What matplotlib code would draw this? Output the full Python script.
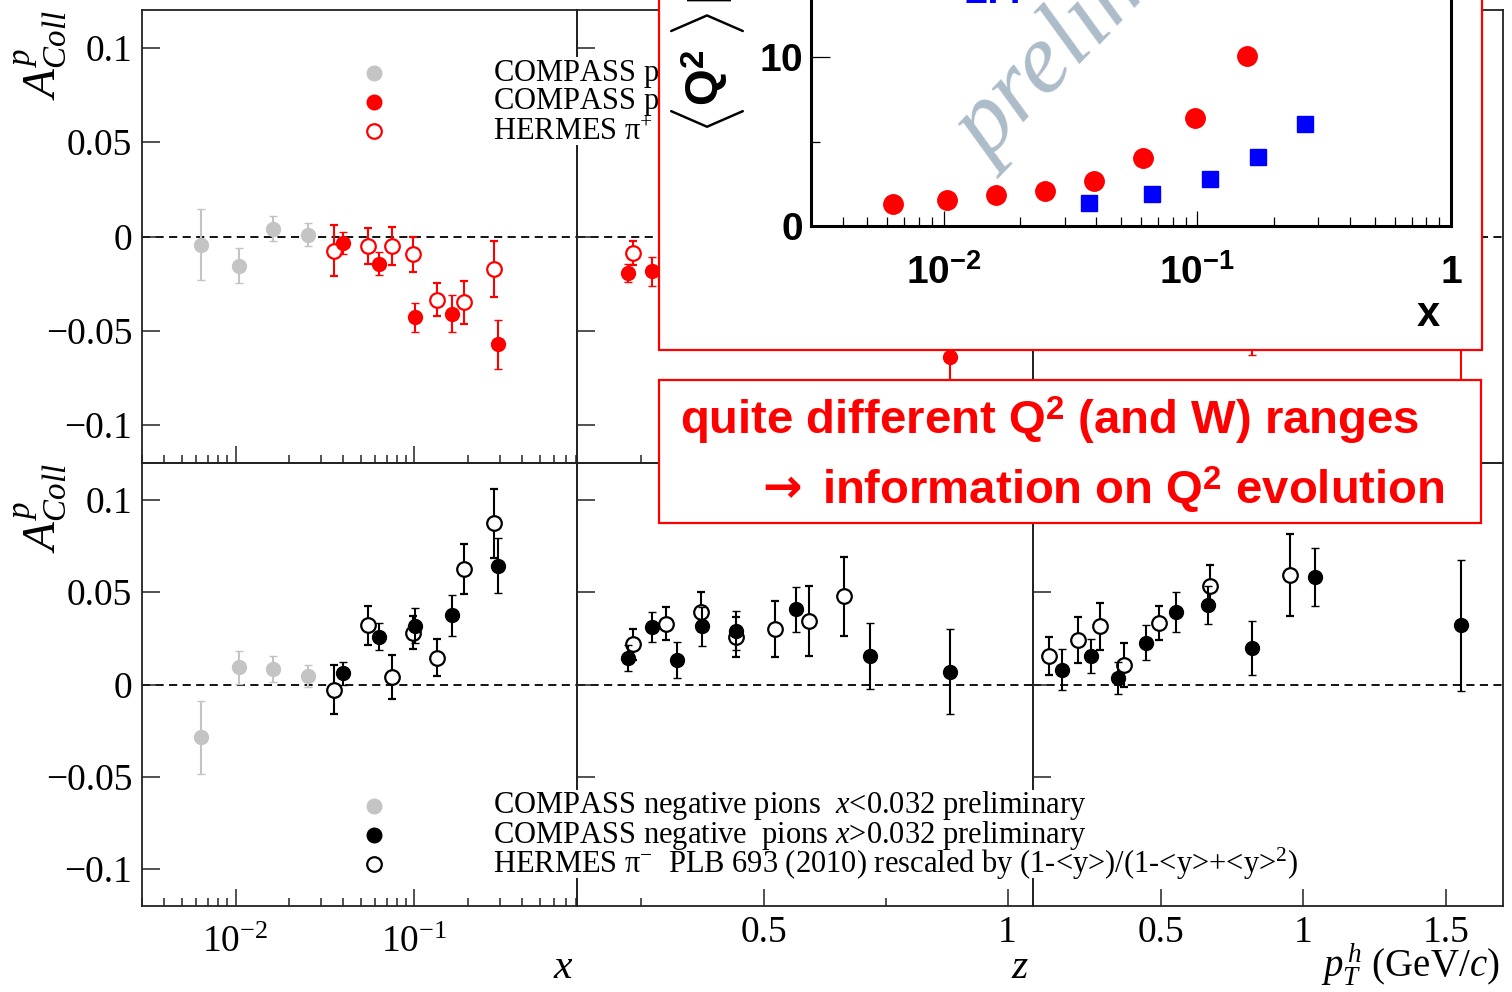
import numpy as np
import matplotlib
matplotlib.use('Agg')
import matplotlib.pyplot as plt
from matplotlib.patches import Rectangle
from matplotlib.lines import Line2D
from matplotlib.transforms import Affine2D
from matplotlib.ticker import LogLocator, FixedLocator, FixedFormatter, NullFormatter

plt.rcParams['font.family'] = ['Liberation Serif', 'DejaVu Serif']
plt.rcParams['mathtext.fontset'] = 'custom'
plt.rcParams['mathtext.rm'] = 'Liberation Serif'
plt.rcParams['mathtext.it'] = 'Liberation Serif:italic'
plt.rcParams['mathtext.bf'] = 'Liberation Sans:bold'
plt.rcParams['axes.linewidth'] = 1.3
plt.rcParams['axes.edgecolor'] = '#222222'

# ---------------- Collins asymmetry data ----------------
# x binning (COMPASS x<0.032, x>0.032, HERMES)
x_lo  = [0.0064, 0.0104, 0.0162, 0.0253]
x_hi  = [0.040, 0.063, 0.101, 0.162, 0.294]
x_her = [0.0353, 0.0548, 0.0745, 0.098, 0.133, 0.189, 0.279]

# positive pions vs x
pos_x_lo      = [-0.0043, -0.0156, 0.0041, 0.0009]
pos_x_lo_err  = [0.019, 0.0093, 0.0067, 0.006]
pos_x_hi      = [-0.0034, -0.0144, -0.0429, -0.041, -0.0571]
pos_x_hi_err  = [0.0058, 0.006, 0.0077, 0.0098, 0.0129]
pos_x_her     = [-0.0076, -0.0051, -0.005, -0.0094, -0.0335, -0.0348, -0.0172]
pos_x_her_err = [0.0135, 0.0094, 0.0102, 0.0092, 0.0087, 0.0113, 0.0147]

# negative pions vs x
neg_x_lo      = [-0.0287, 0.0093, 0.0083, 0.0044]
neg_x_lo_err  = [0.0199, 0.009, 0.0072, 0.006]
neg_x_hi      = [0.0061, 0.0259, 0.0319, 0.0374, 0.0644]
neg_x_hi_err  = [0.0062, 0.0074, 0.0096, 0.011, 0.0148]
neg_x_her     = [-0.0028, 0.032, 0.0041, 0.0281, 0.0144, 0.0624, 0.0874]
neg_x_her_err = [0.0134, 0.0105, 0.0117, 0.0088, 0.01, 0.0135, 0.0187]

# z dependence
z_hi  = [0.222, 0.272, 0.323, 0.375, 0.444, 0.566, 0.718, 0.883]
z_her = [0.232, 0.300, 0.371, 0.444, 0.523, 0.593, 0.664]
pos_z_pts     = [0.222, 0.272, 0.883]
pos_z_hi      = [-0.0194, -0.0185, -0.0637]
pos_z_hi_err  = [0.0049, 0.0076, 0.02]
pos_z_her_pts = [0.232]
pos_z_her     = [-0.0087]
pos_z_her_err = [0.0065]
neg_z_hi      = [0.0144, 0.0311, 0.0133, 0.0315, 0.0291, 0.0407, 0.0154, 0.007]
neg_z_hi_err  = [0.0071, 0.0083, 0.0098, 0.0106, 0.0105, 0.0122, 0.0177, 0.023]
neg_z_her     = [0.0217, 0.033, 0.0394, 0.0259, 0.0302, 0.0343, 0.0478]
neg_z_her_err = [0.0083, 0.009, 0.0106, 0.0109, 0.0153, 0.0189, 0.0213]

# pT dependence
pt_hi  = [0.155, 0.254, 0.349, 0.449, 0.552, 0.665, 0.820, 1.040, 1.553]
pt_her = [0.1075, 0.2095, 0.2867, 0.3723, 0.4931, 0.6722, 0.9544]
pos_pt_pts    = [0.820, 1.553]
pos_pt_hi     = [-0.045, -0.035]
pos_pt_hi_err = [0.018, 0.045]
neg_pt_hi      = [0.008, 0.0156, 0.0037, 0.0226, 0.0393, 0.0433, 0.0198, 0.0583, 0.032]
neg_pt_hi_err  = [0.0111, 0.0091, 0.0087, 0.0094, 0.0106, 0.0103, 0.0145, 0.0156, 0.0355]
neg_pt_her     = [0.0154, 0.0241, 0.0315, 0.0106, 0.0333, 0.0531, 0.0593]
neg_pt_her_err = [0.0105, 0.0122, 0.0126, 0.0119, 0.0094, 0.0116, 0.0224]

# <Q^2> vs x
q2_x_compass = [0.0063, 0.0103, 0.0161, 0.0251, 0.0391, 0.0610, 0.0977, 0.1566]
q2_compass   = [1.27, 1.51, 1.80, 2.08, 2.65, 4.02, 6.41, 10.1]
q2_x_hermes  = [0.0373, 0.0661, 0.112, 0.173, 0.265]
q2_hermes    = [1.33, 1.86, 2.77, 4.10, 6.02]

GREY, RED, BLK = '#c4c4c4', '#ff0000', '#000000'

W, H = 1512, 992
fig = plt.figure(figsize=(W / 100, H / 100), dpi=100)
px = Affine2D().scale(1 / W, -1 / H).translate(0, 1) + fig.transFigure

cols = [142, 577, 1033, 1503]
rows = [10, 463, 906]
xlims = [(0.003, 0.81), (0.118, 1.052), (0.052, 1.70)]
yt = [-0.1, -0.05, 0, 0.05, 0.1]
ytl = ['\u22120.1', '\u22120.05', '0', '0.05', '0.1']


def pts(ax, x, y, e, color, hollow=False, z=3):
    ax.errorbar(x, y, yerr=e, fmt='o', ms=10.5 if hollow else 10, color=color,
                mfc='white' if hollow else color, mec=color, mew=1.6 if hollow else 1,
                elinewidth=1.5, capsize=3.2, capthick=1.5, zorder=z)


axs = {}
for r in range(2):
    for c in range(3):
        l, rt = cols[c], cols[c + 1]
        t, b = rows[r], rows[r + 1]
        ax = fig.add_axes([l / W, 1 - b / H, (rt - l) / W, (b - t) / H])
        ax.set_facecolor('none')
        if c == 0:
            ax.set_xscale('log')
            ax.xaxis.set_major_locator(FixedLocator([0.01, 0.1]))
            ax.xaxis.set_major_formatter(FixedFormatter([r'$10^{-2}$', r'$10^{-1}$']))
            ax.xaxis.set_minor_locator(LogLocator(base=10, subs=np.arange(2, 10), numticks=20))
            ax.xaxis.set_minor_formatter(NullFormatter())
        elif c == 1:
            ax.xaxis.set_major_locator(FixedLocator([0.5, 1.0]))
            ax.xaxis.set_major_formatter(FixedFormatter(['0.5', '1']))
            ax.xaxis.set_minor_locator(FixedLocator([0.25, 0.75]))
        else:
            ax.xaxis.set_major_locator(FixedLocator([0.5, 1.0, 1.5]))
            ax.xaxis.set_major_formatter(FixedFormatter(['0.5', '1', '1.5']))
            ax.xaxis.set_minor_locator(FixedLocator([]))
        ax.set_xlim(*xlims[c])
        ax.set_ylim(-0.12, 0.12)
        ax.yaxis.set_major_locator(FixedLocator(yt))
        ax.yaxis.set_major_formatter(FixedFormatter(ytl))
        ax.tick_params(which='both', direction='in', top=False, right=False,
                       width=1.1, color='#222222', labelsize=27, pad=7)
        ax.tick_params(axis='y', which='major', length=13)
        ax.tick_params(axis='x', which='major', length=12, pad=14 if c == 0 else 7)
        ax.tick_params(axis='x', which='minor', length=6)
        ax.tick_params(axis='y', labelleft=(c == 0))
        ax.tick_params(axis='x', labelbottom=(r == 1))
        ax.axhline(0, color='k', lw=1.3, ls=(0, (4.5, 3)), zorder=1)
        axs[r, c] = ax

# positive pions
pts(axs[0, 0], x_her, pos_x_her, pos_x_her_err, RED, hollow=True)
pts(axs[0, 0], x_lo, pos_x_lo, pos_x_lo_err, GREY)
pts(axs[0, 0], x_hi, pos_x_hi, pos_x_hi_err, RED, z=4)
pts(axs[0, 1], pos_z_her_pts, pos_z_her, pos_z_her_err, RED, hollow=True)
pts(axs[0, 1], pos_z_pts, pos_z_hi, pos_z_hi_err, RED, z=4)
pts(axs[0, 2], pos_pt_pts, pos_pt_hi, pos_pt_hi_err, RED, z=4)

# negative pions
pts(axs[1, 0], x_her, neg_x_her, neg_x_her_err, BLK, hollow=True)
pts(axs[1, 0], x_lo, neg_x_lo, neg_x_lo_err, GREY)
pts(axs[1, 0], x_hi, neg_x_hi, neg_x_hi_err, BLK, z=4)
pts(axs[1, 1], z_her, neg_z_her, neg_z_her_err, BLK, hollow=True)
pts(axs[1, 1], z_hi, neg_z_hi, neg_z_hi_err, BLK, z=4)
pts(axs[1, 2], pt_her, neg_pt_her, neg_pt_her_err, BLK, hollow=True)
pts(axs[1, 2], pt_hi, neg_pt_hi, neg_pt_hi_err, BLK, z=4)

# legends (white boxes over the panel borders)
leg_top = [(GREY, False, 'COMPASS positive pions  $x$<0.032 preliminary'),
           (RED, False, 'COMPASS positive  pions $x$>0.032 preliminary'),
           (RED, True, 'HERMES \u03c0$^{+}$  PLB 693 (2010) rescaled by (1-<y>)/(1-<y>+<y>$^{2}$)')]
leg_bot = [(GREY, False, 'COMPASS negative pions  $x$<0.032 preliminary'),
           (BLK, False, 'COMPASS negative  pions $x$>0.032 preliminary'),
           (BLK, True, 'HERMES \u03c0$^{-}$  PLB 693 (2010) rescaled by (1-<y>)/(1-<y>+<y>$^{2}$)')]
for y0, entries in [(73, leg_top), (806, leg_bot)]:
    fig.add_artist(Rectangle((355, y0 - 16), 945, 88, transform=px, fc='white',
                             ec='none', zorder=1.5))
    for i, (col, hollow, lab) in enumerate(entries):
        yy = y0 + 29 * i
        fig.add_artist(Line2D([374], [yy], transform=px, marker='o', ls='none',
                              ms=10.5, color=col, mfc='white' if hollow else col,
                              mec=col, mew=1.6 if hollow else 1, zorder=2))
        fig.text(493, yy, lab, transform=px, fontsize=22, va='center', ha='left', zorder=3)

# axis titles
for yy in (10, 463):
    fig.text(41, yy, r'$A^{p}_{Coll}$', transform=px, rotation=90, ha='center', va='top', fontsize=34)
fig.text(563, 968, '$x$', transform=px, fontsize=30, ha='center', va='center')
fig.text(1020, 968, '$z$', transform=px, fontsize=30, ha='center', va='center')
fig.text(1500, 965, r'$p^{\,h}_{T}$ (GeV/$c$)', transform=px, fontsize=28, ha='right', va='center')

# ---------------- <Q^2> inset ----------------
fig.add_artist(Rectangle((659, -10), 823, 360, transform=px, fc='white', ec=RED, lw=1.6, zorder=4))
sans = ['Liberation Sans', 'DejaVu Sans']
fig.text(989, 164, 'preliminary', transform=px, rotation=46, rotation_mode='anchor',
         ha='left', va='baseline', style='italic', fontsize=72, color='#adbcc9', zorder=4.5)
fig.text(993, 3, '2.4', transform=px, ha='center', va='baseline', fontsize=30,
         family=sans, weight='bold', color='#0000ff', zorder=4.5)
# rotated <Q^2> [GeV^2] label, pieces placed along the left edge
fig.text(708, 121, r'$\langle$', transform=px, rotation=90, ha='center', va='center',
         fontsize=44, math_fontfamily='cm', zorder=4.5)
fig.text(705, 78, r'Q$^{\mathbf{2}}$', transform=px, rotation=90, ha='center', va='center',
         fontsize=34, family=sans, weight='bold', zorder=4.5)
fig.text(708, 25, r'$\rangle$', transform=px, rotation=90, ha='center', va='center',
         fontsize=44, math_fontfamily='cm', zorder=4.5)
fig.text(710, 4, r'[GeV$^{\mathbf{2}}$]', transform=px, rotation=90, ha='center', va='bottom',
         fontsize=34, family=sans, weight='bold', zorder=4.5)
fig.text(1428, 315, 'x', transform=px, ha='center', va='center', fontsize=30,
         family=sans, weight='bold', zorder=4.5)

ins = fig.add_axes([811 / W, 1 - 225.7 / H, 640 / W, 16 * 16.84 / H], zorder=5)
ins.set_facecolor('none')
for s in ins.spines.values():
    s.set_linewidth(2.2)
    s.set_color('black')
ins.set_xscale('log')
ins.set_xlim(0.003, 1)
ins.set_ylim(0, 16)
ins.xaxis.set_major_locator(FixedLocator([0.01, 0.1, 1]))
ins.xaxis.set_major_formatter(FixedFormatter([r'$\mathbf{10^{-2}}$', r'$\mathbf{10^{-1}}$', r'$\mathbf{1}$']))
ins.xaxis.set_minor_locator(LogLocator(base=10, subs=np.arange(2, 10), numticks=20))
ins.xaxis.set_minor_formatter(NullFormatter())
ins.yaxis.set_major_locator(FixedLocator([0, 10]))
ins.yaxis.set_major_formatter(FixedFormatter([r'$\mathbf{0}$', r'$\mathbf{10}$']))
ins.yaxis.set_minor_locator(FixedLocator([5, 15]))
ins.tick_params(which='both', direction='in', top=False, right=False, width=0.9,
                labelsize=28, color='black')
ins.tick_params(axis='y', which='major', length=13.5, pad=6)
ins.tick_params(axis='y', which='minor', length=6.5)
ins.tick_params(axis='x', which='major', length=11, pad=21)
ins.tick_params(axis='x', which='minor', length=6.5)
ins.plot(q2_x_compass, q2_compass, 'o', color=RED, ms=14, mec=RED, zorder=3)
ins.plot(q2_x_hermes, q2_hermes, 's', color='#0000ff', ms=11, mec='#0000ff', zorder=3)

# ---------------- comment box ----------------
fig.add_artist(Rectangle((659, 380), 822, 143, transform=px, fc='white', ec=RED, lw=1.6, zorder=6))
fig.text(680, 421, r'quite different Q$^{\mathbf{2}}$ (and W) ranges', transform=px,
         family=sans, weight='bold', fontsize=34, color=RED, va='center', ha='left', zorder=7)
fig.text(762, 490, '\u2192', transform=px, family='DejaVu Sans', weight='bold', fontsize=34,
         color=RED, va='center', ha='left', zorder=7)
fig.text(822, 490, r'information on Q$^{\mathbf{2}}$ evolution', transform=px,
         family=sans, weight='bold', fontsize=34, color=RED, va='center', ha='left', zorder=7)

fig.savefig('out.png', dpi=100)
